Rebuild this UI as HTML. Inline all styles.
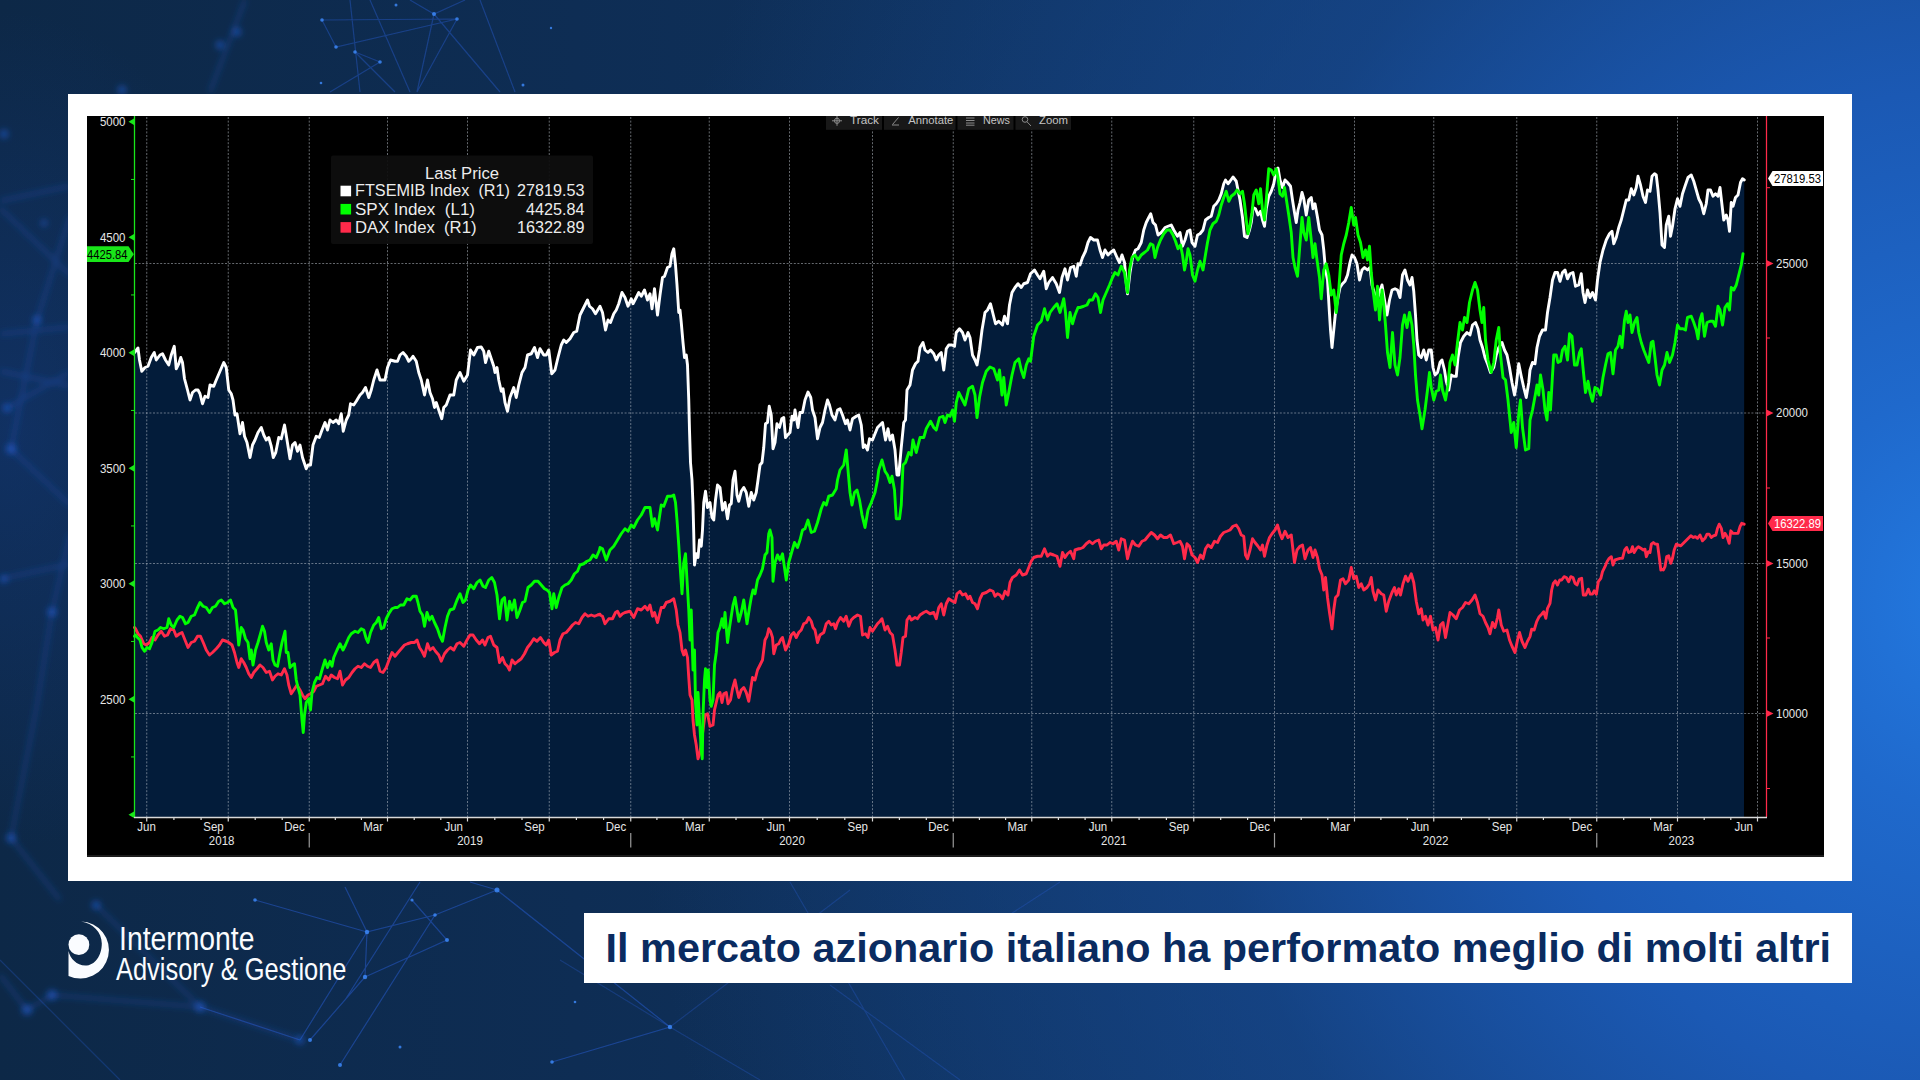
<!DOCTYPE html>
<html lang="it">
<head>
<meta charset="utf-8">
<title>Il mercato azionario italiano ha performato meglio di molti altri</title>
<style>
html,body{margin:0;padding:0;}
body{width:1920px;height:1080px;overflow:hidden;position:relative;font-family:"Liberation Sans",sans-serif;background:#0f2a50;}
#bg{position:absolute;left:0;top:0;width:1920px;height:1080px;
 background:
  radial-gradient(ellipse 260px 420px at 10px 430px, rgba(26,72,170,0.28) 0%, rgba(26,72,170,0) 100%),
  radial-gradient(ellipse 1350px 1500px at 1970px 600px, #2379e0 0%, #1f69cc 14%, #1b59b4 34%, rgba(24,76,152,0.6) 58%, rgba(18,56,108,0) 100%),
  linear-gradient(90deg,#0d2847 0%,#0e2d54 30%,#0f3360 60%,#123b70 100%);}
#net{position:absolute;left:0;top:0;}
#frame{position:absolute;left:68px;top:94px;width:1784px;height:787px;background:#fff;}
#chartbg{position:absolute;left:87px;top:116px;width:1737px;height:739px;background:#000;border-bottom:2.7px solid #1c1c1c;}
#chart{position:absolute;left:0;top:0;}
#chart .grid{stroke:#b8c0c8;stroke-opacity:.55;stroke-width:1;stroke-dasharray:2 1.6;}
#chart .ln{fill:none;stroke-width:2.9;stroke-linejoin:round;stroke-linecap:round;}
#chart text{font-family:"Liberation Sans",sans-serif;}
#chart .ax{font-size:12.3px;fill:#e6e6e6;}
#chart .lg{font-size:17.2px;fill:#ececec;}
#chart .tbt{font-size:11.5px;fill:#c4c4c4;}
#caption{position:absolute;left:583.5px;top:912.5px;width:1268px;height:70.5px;background:#fff;}
#caption svg{position:absolute;left:0;top:0;}
#logo{position:absolute;left:0;top:0;}
</style>
</head>
<body>
<div id="bg"></div>
<svg id="net" width="1920" height="1080" viewBox="0 0 1920 1080">
<defs><filter id="bl" x="-50%" y="-50%" width="200%" height="200%"><feGaussianBlur stdDeviation="3"/></filter><filter id="b1" x="-5%" y="-5%" width="110%" height="110%"><feGaussianBlur stdDeviation="0.6"/></filter></defs>
<g stroke="#2a62e0" stroke-opacity=".38" stroke-width="1.2" fill="none" filter="url(#b1)">
<path d="M322,20 L457,19 M322,20 L336,47 L457,19 M355,52 L380,62 M355,52 L395,92 M380,62 L330,92 M434,14 L417,92 M457,19 L417,92 M434,14 L500,92 M350,0 L360,92 M370,0 L410,92 M410,0 L434,14 L465,0 M480,0 L515,92"/>
<path stroke-opacity=".45" d="M497,890 L435,915 L367,932 L365,977 L310,1040 M497,890 L670,1027 L552,1062 M412,900 L447,940 L365,977 M345,887 L367,932 L300,1040 M435,915 L340,1065 M255,900 L367,932 M200,1007 L300,1040 M420,882 L345,1000 M497,890 L470,882"/>
</g>
<g stroke="#2a62e0" stroke-opacity=".28" stroke-width="1.2" fill="none" filter="url(#b1)">
<path d="M670,1027 L850,890 M670,1027 L760,1080 M830,985 L960,1080 M790,882 L905,1080 M0,960 L120,1080 M560,960 L670,1027 M1060,882 L940,960"/>
</g>
<g fill="#3f8cff" fill-opacity=".8">
<circle cx="322" cy="20" r="1.8"/><circle cx="457" cy="19" r="1.8"/><circle cx="336" cy="47" r="1.8"/><circle cx="355" cy="52" r="1.8"/><circle cx="380" cy="62" r="1.8"/><circle cx="434" cy="14" r="2"/><circle cx="396" cy="5" r="1.5"/><circle cx="551" cy="28" r="1.2"/><circle cx="523" cy="85" r="1.5"/><circle cx="321" cy="83" r="1.3"/>
<circle cx="497" cy="890" r="2.5"/><circle cx="435" cy="915" r="1.8"/><circle cx="367" cy="932" r="2.2"/><circle cx="365" cy="977" r="2.2"/><circle cx="447" cy="940" r="2"/><circle cx="412" cy="900" r="1.6"/><circle cx="670" cy="1027" r="2.2"/><circle cx="552" cy="1062" r="1.8"/><circle cx="310" cy="1040" r="2"/><circle cx="400" cy="1047" r="1.5"/><circle cx="575" cy="1002" r="1.3"/><circle cx="255" cy="900" r="1.8"/><circle cx="340" cy="1065" r="2"/>
</g>
<g filter="url(#bl)" fill="#2a66e8" fill-opacity=".55">
<circle cx="7" cy="408" r="4"/><circle cx="11" cy="449" r="5"/><circle cx="37" cy="320" r="4"/><circle cx="52" cy="612" r="4.5"/><circle cx="4" cy="134" r="4"/><circle cx="4" cy="579" r="3.5"/><circle cx="11" cy="838" r="4.5"/><circle cx="44" cy="223" r="3"/><circle cx="200" cy="1007" r="5"/><circle cx="52" cy="995" r="5"/><circle cx="27" cy="1010" r="5"/><circle cx="237" cy="32" r="4"/><circle cx="220" cy="45" r="4"/><circle cx="122" cy="90" r="4"/><circle cx="300" cy="1040" r="4"/><circle cx="96" cy="905" r="4"/>
</g>
<g filter="url(#bl)" stroke="#2a5fd8" stroke-opacity=".35" stroke-width="3" fill="none">
<path d="M245,0 L210,92 M200,1007 L52,995 L27,1010 M0,975 L27,1010 M200,1007 L300,1040 M96,905 L200,1007 M0,201 L70,186 M0,208 L70,275 M37,320 L70,216 M0,334 L70,327 M0,371 L70,386 M7,408 L70,372 M11,449 L70,505 M11,449 L37,320 M0,579 L70,564 M52,612 L70,534 M52,612 L37,705 M37,705 L11,838 M11,838 L60,900"/>
</g>
</svg>
<div id="frame"></div>
<div id="chartbg"></div>
<svg id="chart" width="1920" height="1080" viewBox="0 0 1920 1080">
<path d="M135,817 L135,352.5 L134.5,352.5 L135.5,351.25 L138,348 L139.5,360 L141.75,371.25 L145,367.5 L148,366.25 L151.25,357.5 L154.25,352.5 L156.25,360 L160,355 L162.5,353.75 L165.5,360 L168.75,365 L171.25,355 L174.25,346.25 L176.25,368.75 L178.75,363.75 L180.75,357.5 L182.5,362.5 L184.5,378.75 L187.5,390 L190,400 L192.5,392.5 L195.5,390 L198,390 L200,393.75 L202.5,403.75 L205,396.25 L208,397.5 L210,385 L213.75,386.25 L216.25,380 L220,371.25 L223.75,362.5 L226.25,367.5 L228.75,390 L231.25,393.75 L233,400 L235,415 L237,413.75 L240,433.75 L242.5,422.5 L244.5,436.25 L247,442.5 L250,457.5 L252.5,445 L255,440 L258,432.5 L261.25,427.5 L263.75,435 L266.25,440 L268.75,437.5 L271.25,446.25 L273.25,457.5 L275.75,452.5 L278.75,437.5 L281.25,438.75 L284.5,425 L287,440 L290,458.75 L292.5,445 L295,442.5 L297.5,451.25 L300,445 L302.5,457.5 L306.25,468.75 L308,465 L310.5,465 L313,445 L316.25,436.25 L319.25,437.5 L322,430 L325,422.5 L327.5,430 L330,420 L333,422.5 L336.25,420 L338.75,423.75 L341.25,413.75 L343.25,431.25 L346.25,420 L348.75,415 L350.5,403.75 L353.75,405 L356.25,401.25 L360,395 L362.5,392.5 L365.5,387.5 L368.75,397.5 L371.25,390 L373.75,380 L377,370 L380,380 L385,380 L387.5,367.5 L390.5,360 L395,361.25 L397.5,361.25 L400,355 L403,352.5 L406.25,356.25 L408.75,361.25 L411.25,358.75 L413,356.25 L416.25,361.25 L418.75,372.5 L421.25,380 L424.5,395 L427.5,380 L430,392.5 L432.5,398.75 L434.5,407.5 L436.25,402.5 L438.75,410 L441.75,418.75 L443.75,407.5 L446.25,405 L450,395 L453.75,395 L456.25,380 L460,372.5 L463.75,381.25 L467.5,375 L470.5,350 L473.75,355 L477.5,347.5 L481.25,347 L483.75,351.25 L485.5,362.5 L488.75,351.25 L491.25,358.75 L493.75,366.25 L495,372.5 L497,367.5 L498.75,380 L501.25,391.25 L503,388.75 L505,402.5 L507.5,411.25 L510,397.5 L513.75,387.5 L516.25,397.5 L518.75,385 L522,372.5 L525,367.5 L527.5,355 L531.25,353.75 L534.5,347.5 L537.5,357.5 L540,348.75 L543.75,355 L546.25,355 L548.75,350 L551.75,373.75 L555,370 L558,357.5 L561.25,345 L563.75,340 L566.25,342.5 L570,338.75 L573.75,332.5 L576.75,331.25 L580,315 L583.75,307.5 L587.5,300 L589.5,306.25 L592.5,308.75 L595.5,313.75 L600,306.25 L600,306.25 L602.5,312.5 L605.5,330 L608,320 L610.5,322.5 L613.75,313.75 L616.25,310 L618.75,303.75 L622,292.5 L625,297.5 L628,306.25 L631.25,298.75 L633,303.75 L636.25,297.5 L638.75,292.5 L641.25,296.25 L644.5,290 L647.5,300 L650,293.75 L652,308.75 L654.5,288.75 L657.5,315 L660,295 L662.5,277.5 L664.5,276.25 L667.5,267.5 L670,266.25 L672,253.75 L673.75,248.75 L675.5,265 L677,285 L678.75,312.5 L680,310 L681.25,322.5 L683,342.5 L684.5,357.5 L686.25,355 L687.5,365 L688.75,400 L689.5,430 L690.5,462.5 L692,480 L693,505 L693.75,533.75 L694.5,565 L696.25,553.75 L698,557.5 L699.5,540 L701.25,546.25 L702.5,530 L703.75,502.5 L705.5,491.25 L707.5,507.5 L710,502.5 L712,517.5 L713.75,520 L715.5,500 L717.5,485 L720,487.5 L722.5,510 L725,502.5 L727.5,518.75 L729.5,505 L731.25,503.75 L733,480 L735,471.25 L737,495 L738.75,501.25 L741.25,491.25 L743.75,487.5 L746.25,492.5 L748.75,506.25 L751.25,492.5 L753.75,500 L756.25,492.5 L758,480 L760,465 L762,462.5 L763.75,447.5 L765.5,423.75 L767.5,422.5 L769.25,406.25 L771.25,415 L773,448.75 L775,442.5 L777,423.75 L779.5,427.5 L781.75,418.75 L783.75,417.5 L785.5,437.5 L787.5,435 L790,432.5 L792,416.25 L793.75,420 L795,410 L798,427.5 L800,412.5 L802.5,412.5 L805,400 L808,392 L810.75,397.5 L812.5,410 L815,417.5 L817.5,438.75 L820,427.5 L822.5,422.5 L825,410 L827.5,400 L829.5,405 L832,415 L835,420 L837.5,410 L840,408.75 L842.5,415 L845.5,423.75 L847.5,420 L850,430 L852.5,418.75 L856.25,416.25 L858.75,415 L861.25,425 L863.25,447.5 L865,445 L867.5,450 L869.5,438.75 L872.5,440 L875,433.75 L877.5,427.5 L880,425 L882.5,422.5 L885.5,440 L888,428.75 L890,440 L892.5,435 L895,450 L897,475 L898.75,475 L901.25,447.5 L903.75,422.5 L905.5,420 L907,390 L910,385 L912.5,370 L915.5,363.75 L918,361.25 L920,347.5 L923,342.5 L925,350 L928,352.5 L930.5,350 L933.75,353.75 L936.25,360 L938.75,355 L941.25,352.5 L943.75,370 L946.25,348.75 L948.75,345 L952,345 L954.5,346.25 L956.25,332.5 L959.5,328.75 L962.5,332.5 L965,340 L968,332.5 L970,337.5 L972.5,355 L975,360 L977,365 L979.5,350 L982,330 L985,312.5 L987.5,310 L990.5,303.75 L993,313.75 L995.5,323.75 L998.75,321.25 L1002.5,325 L1004.5,316.25 L1007.5,323.75 L1009.5,305 L1012,292.5 L1015,287.5 L1018,283.75 L1021.25,287.5 L1023.75,283.75 L1027.5,282.5 L1030.5,273.75 L1034.5,270 L1037.5,275 L1040,278.75 L1043.75,271.25 L1046.25,288.75 L1048.75,282.5 L1052.5,277.5 L1056.25,283.75 L1059.5,292.5 L1062,277.5 L1065,268.75 L1067.5,280 L1070.5,267.5 L1073.75,266.25 L1076.25,276.25 L1078,263.75 L1080,265 L1082.5,257.5 L1085.5,251.25 L1088,242.5 L1090.5,237.5 L1093.75,240 L1097.5,240 L1100,250 L1102.5,257.5 L1105,250 L1108,255 L1110.5,252.5 L1113.75,250 L1117,257.5 L1119.5,262.5 L1122,255 L1124.5,262.5 L1126.25,282.5 L1127.5,293.75 L1130,272.5 L1132.5,257.5 L1135.5,250 L1138,248.75 L1141.25,242.5 L1143.75,230 L1146.25,222.5 L1148.75,217.5 L1150.75,213.75 L1153,222.5 L1155.5,225 L1158,235 L1161.25,232.5 L1165,227.5 L1168,226.25 L1171.25,225 L1173.75,230 L1177.5,236.25 L1180,232.5 L1182.5,246.25 L1185,240 L1187.5,231.25 L1190,230 L1192,242.5 L1195,246.25 L1197.5,235 L1200,233.75 L1203,230 L1205.5,220 L1208.75,217.5 L1211.25,216.25 L1213.75,206.25 L1216.25,203.75 L1218.75,200 L1221.25,193.75 L1223.75,183.75 L1225.5,180 L1228,183.75 L1230,181.25 L1233,177 L1236.25,181.25 L1238,190 L1240,200 L1242.5,217.5 L1244.5,236.25 L1247,237.5 L1249.5,230 L1251.25,222.5 L1253,207.5 L1255.5,208.75 L1258,215 L1260.5,211.25 L1262.5,220 L1264.5,226.25 L1266.25,208.75 L1268.75,196.25 L1271.25,191.25 L1273.75,183.75 L1276.25,170 L1278,168 L1280,180 L1282.5,187.5 L1285,180 L1287.5,182.5 L1290.5,186.25 L1292.5,200 L1294.5,212.5 L1296.25,222.5 L1298,210 L1300,202.5 L1302,192.5 L1303.75,198.75 L1306.25,215 L1308.75,200 L1311.25,197.5 L1313,208.75 L1315,203.75 L1317.5,217.5 L1319.5,230 L1322,235 L1323.75,250 L1325.5,270 L1327.5,280 L1329.25,310 L1330.5,330 L1332,347.5 L1333.75,330 L1335.5,312.5 L1337.5,300 L1340,287.5 L1342.5,283.75 L1345,281.25 L1347.5,275 L1350,262.5 L1352,255 L1354.5,257.5 L1357,263.75 L1359.5,280 L1362,270 L1364.5,267.5 L1367.5,270 L1370,267.5 L1372,285 L1374.5,293.75 L1377,300 L1379.5,292.5 L1382,285 L1384.5,300 L1387,315 L1389.5,300 L1392,290 L1395,288.75 L1397.5,290 L1400,297.5 L1402.5,275 L1405,270 L1407.5,280 L1410,285 L1412,277.5 L1413.75,291.25 L1415.5,315 L1417,340 L1418.75,355 L1421.25,357.5 L1423.75,350 L1426.25,360 L1428.75,350 L1431.25,350 L1433,367.5 L1435,375 L1437.5,372.5 L1440,362.5 L1442,360 L1444.5,370 L1446.25,381.25 L1448.75,390 L1451.25,375 L1453.75,376.25 L1456.25,376.25 L1458,357.5 L1460.5,342.5 L1463.75,336.25 L1467,332.5 L1470,335 L1472.5,325 L1475.5,322.5 L1478,328.75 L1480,340 L1482.5,347.5 L1485,357.5 L1488,365 L1490.5,372.5 L1493.75,367.5 L1496.25,355 L1498.75,347.5 L1502,342.5 L1504.5,350 L1507,355 L1509.5,367.5 L1512,382.5 L1514.5,395 L1516.25,385 L1518.75,363.75 L1521.25,376.25 L1523.75,387.5 L1526.25,397.5 L1528.75,382.5 L1530,370 L1532.5,362.5 L1535,363.75 L1537,347.5 L1539.5,336.25 L1542.5,330 L1545.5,330 L1547.5,312.5 L1550,297.5 L1552.5,280 L1555,272.5 L1557.5,272.5 L1560,281.25 L1562.5,272.5 L1565,270 L1567.5,278.75 L1570,273.75 L1573,272.5 L1575.5,286.25 L1578.75,285 L1581.25,273.75 L1583,292.5 L1585,302.5 L1587.5,290 L1590,297.5 L1592.5,292.5 L1595.5,300 L1597.5,280 L1600,262.5 L1603,250 L1606.25,240 L1609.5,233.75 L1612,231.25 L1613.75,243.75 L1616.25,237.5 L1618.75,227.5 L1621.25,220 L1623.75,210 L1626.25,200 L1628.75,200 L1631.25,188.75 L1633.75,195 L1636.25,187.5 L1638,176.25 L1640.5,185 L1643,196.25 L1645.5,202.5 L1647.5,190 L1650,191.25 L1652,176.25 L1654.5,173.75 L1656.25,175 L1658,190 L1660,212.5 L1662,245 L1664.5,247.5 L1666.25,225 L1668.75,216.25 L1670.5,236.25 L1672.5,226.25 L1675,208.75 L1677.5,198.75 L1680,206.25 L1682.5,193.75 L1685,186.25 L1688,177.5 L1691.25,175 L1693.75,181.25 L1696.25,190 L1698.75,198.75 L1701.25,203.75 L1703.75,213.75 L1706.25,203.75 L1708,190 L1710.5,190 L1713,196.25 L1715.5,193.75 L1718,196.25 L1720,187.5 L1722,205 L1723.75,220 L1726.25,215 L1728,220 L1729.5,231.25 L1731.25,202.5 L1733,206.25 L1735.5,197.5 L1738,195 L1740.5,182.5 L1742.5,178.75 L1744.25,180 L1744,817 Z" fill="#031c3a"/>
<line x1="146.75" y1="117" x2="146.75" y2="817" class="grid"/>
<line x1="228.25" y1="117" x2="228.25" y2="817" class="grid"/>
<line x1="309.25" y1="117" x2="309.25" y2="817" class="grid"/>
<line x1="387.5" y1="117" x2="387.5" y2="817" class="grid"/>
<line x1="467.5" y1="117" x2="467.5" y2="817" class="grid"/>
<line x1="549.25" y1="117" x2="549.25" y2="817" class="grid"/>
<line x1="630.75" y1="117" x2="630.75" y2="817" class="grid"/>
<line x1="709.25" y1="117" x2="709.25" y2="817" class="grid"/>
<line x1="789.5" y1="117" x2="789.5" y2="817" class="grid"/>
<line x1="872.5" y1="117" x2="872.5" y2="817" class="grid"/>
<line x1="953.25" y1="117" x2="953.25" y2="817" class="grid"/>
<line x1="1031.75" y1="117" x2="1031.75" y2="817" class="grid"/>
<line x1="1111.75" y1="117" x2="1111.75" y2="817" class="grid"/>
<line x1="1193.75" y1="117" x2="1193.75" y2="817" class="grid"/>
<line x1="1274.5" y1="117" x2="1274.5" y2="817" class="grid"/>
<line x1="1354.5" y1="117" x2="1354.5" y2="817" class="grid"/>
<line x1="1433.75" y1="117" x2="1433.75" y2="817" class="grid"/>
<line x1="1516.75" y1="117" x2="1516.75" y2="817" class="grid"/>
<line x1="1596.75" y1="117" x2="1596.75" y2="817" class="grid"/>
<line x1="1677.5" y1="117" x2="1677.5" y2="817" class="grid"/>
<line x1="1757.5" y1="117" x2="1757.5" y2="817" class="grid"/>
<line x1="135" y1="263.5" x2="1766" y2="263.5" class="grid"/>
<line x1="135" y1="413" x2="1766" y2="413" class="grid"/>
<line x1="135" y1="563.5" x2="1766" y2="563.5" class="grid"/>
<line x1="135" y1="713.5" x2="1766" y2="713.5" class="grid"/>
<g class="tb">
<rect x="826" y="116" width="56" height="13.8" fill="#181818"/>
<rect x="884" y="116" width="71.5" height="13.8" fill="#181818"/>
<rect x="957.5" y="116" width="56" height="13.8" fill="#181818"/>
<rect x="1015.5" y="116" width="55.5" height="13.8" fill="#181818"/>
<text x="850" y="124.0" class="tbt" textLength="29" lengthAdjust="spacingAndGlyphs">Track</text>
<text x="908.3" y="124.0" class="tbt" textLength="45" lengthAdjust="spacingAndGlyphs">Annotate</text>
<text x="983" y="124.0" class="tbt" textLength="27" lengthAdjust="spacingAndGlyphs">News</text>
<text x="1039" y="124.0" class="tbt" textLength="29" lengthAdjust="spacingAndGlyphs">Zoom</text>
<g stroke="#8a8a8a" stroke-width="1" fill="none">
<circle cx="837" cy="120.8" r="2.6"/><path d="M832,120.8 H842 M837,116 V125.8"/>
<path d="M892.5,124.5 L898.5,117.5 M892,125 H899"/>
<path d="M966,118 H974.5 M966,120.5 H974.5 M966,123 H974.5 M966,125.2 H974.5"/>
<circle cx="1025" cy="119.5" r="2.8"/><path d="M1027,121.8 L1031,126"/>
</g>
</g>
<path d="M134.5,352.5 L135.5,351.25 L138,348 L139.5,360 L141.75,371.25 L145,367.5 L148,366.25 L151.25,357.5 L154.25,352.5 L156.25,360 L160,355 L162.5,353.75 L165.5,360 L168.75,365 L171.25,355 L174.25,346.25 L176.25,368.75 L178.75,363.75 L180.75,357.5 L182.5,362.5 L184.5,378.75 L187.5,390 L190,400 L192.5,392.5 L195.5,390 L198,390 L200,393.75 L202.5,403.75 L205,396.25 L208,397.5 L210,385 L213.75,386.25 L216.25,380 L220,371.25 L223.75,362.5 L226.25,367.5 L228.75,390 L231.25,393.75 L233,400 L235,415 L237,413.75 L240,433.75 L242.5,422.5 L244.5,436.25 L247,442.5 L250,457.5 L252.5,445 L255,440 L258,432.5 L261.25,427.5 L263.75,435 L266.25,440 L268.75,437.5 L271.25,446.25 L273.25,457.5 L275.75,452.5 L278.75,437.5 L281.25,438.75 L284.5,425 L287,440 L290,458.75 L292.5,445 L295,442.5 L297.5,451.25 L300,445 L302.5,457.5 L306.25,468.75 L308,465 L310.5,465 L313,445 L316.25,436.25 L319.25,437.5 L322,430 L325,422.5 L327.5,430 L330,420 L333,422.5 L336.25,420 L338.75,423.75 L341.25,413.75 L343.25,431.25 L346.25,420 L348.75,415 L350.5,403.75 L353.75,405 L356.25,401.25 L360,395 L362.5,392.5 L365.5,387.5 L368.75,397.5 L371.25,390 L373.75,380 L377,370 L380,380 L385,380 L387.5,367.5 L390.5,360 L395,361.25 L397.5,361.25 L400,355 L403,352.5 L406.25,356.25 L408.75,361.25 L411.25,358.75 L413,356.25 L416.25,361.25 L418.75,372.5 L421.25,380 L424.5,395 L427.5,380 L430,392.5 L432.5,398.75 L434.5,407.5 L436.25,402.5 L438.75,410 L441.75,418.75 L443.75,407.5 L446.25,405 L450,395 L453.75,395 L456.25,380 L460,372.5 L463.75,381.25 L467.5,375 L470.5,350 L473.75,355 L477.5,347.5 L481.25,347 L483.75,351.25 L485.5,362.5 L488.75,351.25 L491.25,358.75 L493.75,366.25 L495,372.5 L497,367.5 L498.75,380 L501.25,391.25 L503,388.75 L505,402.5 L507.5,411.25 L510,397.5 L513.75,387.5 L516.25,397.5 L518.75,385 L522,372.5 L525,367.5 L527.5,355 L531.25,353.75 L534.5,347.5 L537.5,357.5 L540,348.75 L543.75,355 L546.25,355 L548.75,350 L551.75,373.75 L555,370 L558,357.5 L561.25,345 L563.75,340 L566.25,342.5 L570,338.75 L573.75,332.5 L576.75,331.25 L580,315 L583.75,307.5 L587.5,300 L589.5,306.25 L592.5,308.75 L595.5,313.75 L600,306.25 L600,306.25 L602.5,312.5 L605.5,330 L608,320 L610.5,322.5 L613.75,313.75 L616.25,310 L618.75,303.75 L622,292.5 L625,297.5 L628,306.25 L631.25,298.75 L633,303.75 L636.25,297.5 L638.75,292.5 L641.25,296.25 L644.5,290 L647.5,300 L650,293.75 L652,308.75 L654.5,288.75 L657.5,315 L660,295 L662.5,277.5 L664.5,276.25 L667.5,267.5 L670,266.25 L672,253.75 L673.75,248.75 L675.5,265 L677,285 L678.75,312.5 L680,310 L681.25,322.5 L683,342.5 L684.5,357.5 L686.25,355 L687.5,365 L688.75,400 L689.5,430 L690.5,462.5 L692,480 L693,505 L693.75,533.75 L694.5,565 L696.25,553.75 L698,557.5 L699.5,540 L701.25,546.25 L702.5,530 L703.75,502.5 L705.5,491.25 L707.5,507.5 L710,502.5 L712,517.5 L713.75,520 L715.5,500 L717.5,485 L720,487.5 L722.5,510 L725,502.5 L727.5,518.75 L729.5,505 L731.25,503.75 L733,480 L735,471.25 L737,495 L738.75,501.25 L741.25,491.25 L743.75,487.5 L746.25,492.5 L748.75,506.25 L751.25,492.5 L753.75,500 L756.25,492.5 L758,480 L760,465 L762,462.5 L763.75,447.5 L765.5,423.75 L767.5,422.5 L769.25,406.25 L771.25,415 L773,448.75 L775,442.5 L777,423.75 L779.5,427.5 L781.75,418.75 L783.75,417.5 L785.5,437.5 L787.5,435 L790,432.5 L792,416.25 L793.75,420 L795,410 L798,427.5 L800,412.5 L802.5,412.5 L805,400 L808,392 L810.75,397.5 L812.5,410 L815,417.5 L817.5,438.75 L820,427.5 L822.5,422.5 L825,410 L827.5,400 L829.5,405 L832,415 L835,420 L837.5,410 L840,408.75 L842.5,415 L845.5,423.75 L847.5,420 L850,430 L852.5,418.75 L856.25,416.25 L858.75,415 L861.25,425 L863.25,447.5 L865,445 L867.5,450 L869.5,438.75 L872.5,440 L875,433.75 L877.5,427.5 L880,425 L882.5,422.5 L885.5,440 L888,428.75 L890,440 L892.5,435 L895,450 L897,475 L898.75,475 L901.25,447.5 L903.75,422.5 L905.5,420 L907,390 L910,385 L912.5,370 L915.5,363.75 L918,361.25 L920,347.5 L923,342.5 L925,350 L928,352.5 L930.5,350 L933.75,353.75 L936.25,360 L938.75,355 L941.25,352.5 L943.75,370 L946.25,348.75 L948.75,345 L952,345 L954.5,346.25 L956.25,332.5 L959.5,328.75 L962.5,332.5 L965,340 L968,332.5 L970,337.5 L972.5,355 L975,360 L977,365 L979.5,350 L982,330 L985,312.5 L987.5,310 L990.5,303.75 L993,313.75 L995.5,323.75 L998.75,321.25 L1002.5,325 L1004.5,316.25 L1007.5,323.75 L1009.5,305 L1012,292.5 L1015,287.5 L1018,283.75 L1021.25,287.5 L1023.75,283.75 L1027.5,282.5 L1030.5,273.75 L1034.5,270 L1037.5,275 L1040,278.75 L1043.75,271.25 L1046.25,288.75 L1048.75,282.5 L1052.5,277.5 L1056.25,283.75 L1059.5,292.5 L1062,277.5 L1065,268.75 L1067.5,280 L1070.5,267.5 L1073.75,266.25 L1076.25,276.25 L1078,263.75 L1080,265 L1082.5,257.5 L1085.5,251.25 L1088,242.5 L1090.5,237.5 L1093.75,240 L1097.5,240 L1100,250 L1102.5,257.5 L1105,250 L1108,255 L1110.5,252.5 L1113.75,250 L1117,257.5 L1119.5,262.5 L1122,255 L1124.5,262.5 L1126.25,282.5 L1127.5,293.75 L1130,272.5 L1132.5,257.5 L1135.5,250 L1138,248.75 L1141.25,242.5 L1143.75,230 L1146.25,222.5 L1148.75,217.5 L1150.75,213.75 L1153,222.5 L1155.5,225 L1158,235 L1161.25,232.5 L1165,227.5 L1168,226.25 L1171.25,225 L1173.75,230 L1177.5,236.25 L1180,232.5 L1182.5,246.25 L1185,240 L1187.5,231.25 L1190,230 L1192,242.5 L1195,246.25 L1197.5,235 L1200,233.75 L1203,230 L1205.5,220 L1208.75,217.5 L1211.25,216.25 L1213.75,206.25 L1216.25,203.75 L1218.75,200 L1221.25,193.75 L1223.75,183.75 L1225.5,180 L1228,183.75 L1230,181.25 L1233,177 L1236.25,181.25 L1238,190 L1240,200 L1242.5,217.5 L1244.5,236.25 L1247,237.5 L1249.5,230 L1251.25,222.5 L1253,207.5 L1255.5,208.75 L1258,215 L1260.5,211.25 L1262.5,220 L1264.5,226.25 L1266.25,208.75 L1268.75,196.25 L1271.25,191.25 L1273.75,183.75 L1276.25,170 L1278,168 L1280,180 L1282.5,187.5 L1285,180 L1287.5,182.5 L1290.5,186.25 L1292.5,200 L1294.5,212.5 L1296.25,222.5 L1298,210 L1300,202.5 L1302,192.5 L1303.75,198.75 L1306.25,215 L1308.75,200 L1311.25,197.5 L1313,208.75 L1315,203.75 L1317.5,217.5 L1319.5,230 L1322,235 L1323.75,250 L1325.5,270 L1327.5,280 L1329.25,310 L1330.5,330 L1332,347.5 L1333.75,330 L1335.5,312.5 L1337.5,300 L1340,287.5 L1342.5,283.75 L1345,281.25 L1347.5,275 L1350,262.5 L1352,255 L1354.5,257.5 L1357,263.75 L1359.5,280 L1362,270 L1364.5,267.5 L1367.5,270 L1370,267.5 L1372,285 L1374.5,293.75 L1377,300 L1379.5,292.5 L1382,285 L1384.5,300 L1387,315 L1389.5,300 L1392,290 L1395,288.75 L1397.5,290 L1400,297.5 L1402.5,275 L1405,270 L1407.5,280 L1410,285 L1412,277.5 L1413.75,291.25 L1415.5,315 L1417,340 L1418.75,355 L1421.25,357.5 L1423.75,350 L1426.25,360 L1428.75,350 L1431.25,350 L1433,367.5 L1435,375 L1437.5,372.5 L1440,362.5 L1442,360 L1444.5,370 L1446.25,381.25 L1448.75,390 L1451.25,375 L1453.75,376.25 L1456.25,376.25 L1458,357.5 L1460.5,342.5 L1463.75,336.25 L1467,332.5 L1470,335 L1472.5,325 L1475.5,322.5 L1478,328.75 L1480,340 L1482.5,347.5 L1485,357.5 L1488,365 L1490.5,372.5 L1493.75,367.5 L1496.25,355 L1498.75,347.5 L1502,342.5 L1504.5,350 L1507,355 L1509.5,367.5 L1512,382.5 L1514.5,395 L1516.25,385 L1518.75,363.75 L1521.25,376.25 L1523.75,387.5 L1526.25,397.5 L1528.75,382.5 L1530,370 L1532.5,362.5 L1535,363.75 L1537,347.5 L1539.5,336.25 L1542.5,330 L1545.5,330 L1547.5,312.5 L1550,297.5 L1552.5,280 L1555,272.5 L1557.5,272.5 L1560,281.25 L1562.5,272.5 L1565,270 L1567.5,278.75 L1570,273.75 L1573,272.5 L1575.5,286.25 L1578.75,285 L1581.25,273.75 L1583,292.5 L1585,302.5 L1587.5,290 L1590,297.5 L1592.5,292.5 L1595.5,300 L1597.5,280 L1600,262.5 L1603,250 L1606.25,240 L1609.5,233.75 L1612,231.25 L1613.75,243.75 L1616.25,237.5 L1618.75,227.5 L1621.25,220 L1623.75,210 L1626.25,200 L1628.75,200 L1631.25,188.75 L1633.75,195 L1636.25,187.5 L1638,176.25 L1640.5,185 L1643,196.25 L1645.5,202.5 L1647.5,190 L1650,191.25 L1652,176.25 L1654.5,173.75 L1656.25,175 L1658,190 L1660,212.5 L1662,245 L1664.5,247.5 L1666.25,225 L1668.75,216.25 L1670.5,236.25 L1672.5,226.25 L1675,208.75 L1677.5,198.75 L1680,206.25 L1682.5,193.75 L1685,186.25 L1688,177.5 L1691.25,175 L1693.75,181.25 L1696.25,190 L1698.75,198.75 L1701.25,203.75 L1703.75,213.75 L1706.25,203.75 L1708,190 L1710.5,190 L1713,196.25 L1715.5,193.75 L1718,196.25 L1720,187.5 L1722,205 L1723.75,220 L1726.25,215 L1728,220 L1729.5,231.25 L1731.25,202.5 L1733,206.25 L1735.5,197.5 L1738,195 L1740.5,182.5 L1742.5,178.75 L1744.25,180" class="ln" stroke="#ffffff"/>
<path d="M134.5,627.5 L135.5,628.75 L138,633.75 L140.5,636.25 L143.75,643.75 L146.25,645 L149.5,642.5 L152,637.5 L155,640 L158,635 L161.25,631.25 L164.5,636.25 L167.5,635 L170.5,628.75 L173.75,630 L176.25,636.25 L179.5,633.75 L182,632.5 L185,640 L188,647.5 L191.25,642.5 L194.5,641.25 L197.5,636.25 L200.5,636.25 L203.75,643.75 L206.25,650 L209.5,655 L212.5,652.5 L216.25,648.75 L219.5,645 L222.5,640 L226.25,641.25 L228.75,642.5 L232,645 L234.5,652.5 L237,662.5 L238.75,667.5 L241.25,658.75 L243.75,662.5 L246.25,667.5 L248.75,673.75 L251.25,677.5 L253.75,672.5 L257,668.75 L260,665 L263,667.5 L266.25,672.5 L269.5,671.25 L272.5,680 L275,676.25 L278,673.75 L281.25,675 L284.5,668.75 L287,675 L288.75,685 L291.25,693.75 L293.75,690 L297,685 L300,690 L302.5,695 L305,698.75 L308,695 L310.5,693.75 L313.75,691.25 L316.25,686.25 L319.5,685 L322.5,683.75 L325.5,676.25 L328.75,680 L331.25,675 L334.5,677.5 L337.5,678.75 L340,671.25 L342.5,685 L345.5,680 L348.75,677.5 L352,672.5 L355,668.75 L358,666.25 L361.25,667.5 L364.5,663.75 L367.5,666.25 L370.5,667.5 L373.75,662.5 L377,660 L380,671.25 L383,672.5 L386.25,667.5 L389.5,658.75 L392,652.5 L395,656.25 L398,652.5 L401.25,648.75 L404.5,645 L407.5,643.75 L411.25,642.5 L414.5,642.5 L417,640 L419.5,647.5 L422,651.25 L424.5,656.25 L427.5,643.75 L430,650 L433,647.5 L435.5,651.25 L438.75,655 L441.25,661.25 L444.5,653.75 L447.5,650 L450.5,647.5 L453.75,650 L457,643.75 L460,642.5 L463.75,646.25 L467,640 L470,635 L473,635 L476.25,640 L479.5,643.75 L482.5,640 L485,645 L488,637.5 L490.5,636.25 L493.75,645 L497,647.5 L499.5,662.5 L502.5,657.5 L505,663.75 L507.5,666.25 L509.5,670 L512,660 L515,663.75 L518,661.25 L521.25,658.75 L524.5,653.75 L527.5,647.5 L530.5,643.75 L533.75,638.75 L537,641.25 L540.5,637.5 L543.75,642.5 L546.25,645 L548.75,640 L551.25,655 L554.5,652.5 L557.5,651.25 L560,640 L563,633.75 L566.25,632.5 L569.5,628.75 L572.5,625 L575.5,622.5 L578.75,623.75 L582,617.5 L585,613.75 L588,616.25 L591.25,615 L594.5,616.25 L597.5,615 L600,614.25 L600,615 L602.5,616.25 L605,623.75 L608.75,618.75 L612.5,618.75 L615.5,612.5 L617.5,611.25 L620,616.25 L622.5,613.75 L625,612.5 L630,611.25 L633.75,617.5 L637.5,608.75 L641.25,610 L645,606.25 L647.5,610 L650,605 L652.5,616.25 L654.5,612.5 L657.5,622.5 L661.25,607.5 L663.75,607.5 L666.25,602.5 L670,601.25 L673.75,598.75 L676.25,610 L678,625 L680,632.5 L682,650 L683.75,655 L685.5,650 L687.5,657.5 L688.75,677.5 L690,695 L692,700 L693,720 L694.5,735 L696.25,745 L698,758.75 L700,752.5 L701.25,742.5 L703,730 L705,715 L707.5,713.75 L710,726.25 L713,725 L714.5,710 L716.25,702.5 L718,695 L720,692.5 L722,702.5 L723.75,693.75 L726.25,692.5 L728,703.75 L730.5,700 L732.5,688.75 L735,680 L737,690 L738.75,697.5 L741.25,690 L743.75,687.5 L746.25,692.5 L748.75,701.25 L750.5,690 L752.5,677.5 L755,680 L757.5,670 L760,665 L762.5,660 L765,640 L767,636.25 L768.75,628.75 L770.5,631.25 L772.5,637.5 L773.75,653.75 L776.25,645 L778.75,643.75 L780.5,640 L782.5,637.5 L785.5,650 L788.75,643.75 L791.25,635 L793.75,632.5 L796.25,637.5 L798.75,632.5 L801.25,630 L803.75,623.75 L806.25,622.5 L808.75,617.5 L811.25,621.25 L813,627.5 L815,630 L817.5,642.5 L820,635 L823.75,632.5 L826.25,623.75 L828.75,621.25 L831.25,625 L833.75,623.75 L835.5,628.75 L837.5,622.5 L840.5,617.5 L843.75,621.25 L846.25,616.25 L848.75,626.25 L851.25,620 L853.75,617.5 L857.5,615 L860.5,616.25 L862.5,635 L865.5,633.75 L868,637.5 L870,627.5 L872.5,631.25 L875,627.5 L877.5,623.75 L880,621.25 L882,618.75 L885,630 L887.5,626.25 L890,632.5 L892.5,635 L895,650 L897,665 L899.5,665 L901.25,652.5 L903,637.5 L905.5,636.25 L907,620 L909.5,616.25 L911.25,620 L915,617.5 L917.5,618.75 L920,615 L923.75,612.5 L926.25,611.25 L930,613.75 L933.75,612.5 L936.25,618.75 L938.75,607.5 L941.25,603.75 L943.75,615 L946.25,603.75 L948.75,598.75 L952.5,601.25 L955,602.5 L957,593.75 L960,591.25 L962.5,595 L965.5,593.75 L968,598.75 L970,596.25 L972.5,602.5 L975,603.75 L977.5,608.75 L980,598.75 L982.5,593.75 L986.25,592.5 L990,590 L993,591.25 L995,596.25 L997.5,593.75 L1000,595 L1002.5,598.75 L1005,591.25 L1008,595 L1010,582.5 L1012.5,577.5 L1016.25,575 L1019.5,570 L1022.5,575 L1026.25,573.75 L1028.75,567.5 L1031.25,561.25 L1033.75,557.5 L1037.5,556.25 L1041.25,556.25 L1044.5,548.75 L1047.5,556.25 L1050,553.75 L1053.75,555 L1057,556.25 L1060,566.25 L1062.5,552.5 L1065,557.5 L1067.5,553.75 L1070.5,551.25 L1073.75,558.75 L1075,550 L1078.75,548.75 L1080,548.75 L1083,547.5 L1086.25,543.75 L1089.5,541.25 L1092.5,543.75 L1095.5,541.25 L1098.75,540 L1101.25,548.75 L1103.75,545 L1107,545 L1110,542.5 L1113,543.75 L1116.25,541.25 L1118.75,550 L1121.25,538.75 L1124.5,540 L1127.5,558.75 L1130,548.75 L1132.5,541.25 L1135.5,545 L1138.75,546.25 L1142,541.25 L1145,540 L1148,536.25 L1151.25,532.5 L1154.5,535 L1157.5,538.75 L1160.5,535 L1163.75,537.5 L1167,537.5 L1170.5,535 L1173.75,543.75 L1177,542.5 L1180,541.25 L1182.5,546.25 L1184.5,558.75 L1187,543.75 L1189.5,546.25 L1192,555 L1195,557.5 L1197.5,562.5 L1200.5,555 L1203,558.75 L1205.5,548.75 L1208,545 L1211.25,547.5 L1214.5,541.25 L1217.5,542.5 L1220.5,536.25 L1223.75,532.5 L1227,531.25 L1230,530 L1233,526.25 L1236.25,525 L1238.75,528.75 L1241.25,535 L1243.75,536.25 L1245.5,555 L1247.5,558.75 L1250,550 L1252.5,538.75 L1255,542.5 L1258,546.25 L1260.5,550 L1262.5,545 L1264.5,556.25 L1267,545 L1269.5,537.5 L1272,533.75 L1275,530 L1277.5,525 L1280,533.75 L1282,538.75 L1285,531.25 L1288,537.5 L1291.25,535 L1293,550 L1294.5,562.5 L1297,550 L1300,546.25 L1302.5,545 L1305,558.75 L1308,550 L1310.5,547.5 L1313,557.5 L1315,550 L1317.5,557.5 L1319.5,568.75 L1322,575 L1323.75,590 L1325.5,577.5 L1327.5,597.5 L1329.5,612.5 L1332,628.75 L1333.75,610 L1335.5,597.5 L1338,595 L1340.5,580 L1343,578.75 L1345.5,583.75 L1348.75,580 L1351.25,567.5 L1353.75,578.75 L1356.25,576.25 L1358.75,587.5 L1361.25,583.75 L1363.75,590 L1367,587.5 L1369.5,583.75 L1371.25,577.5 L1373,591.25 L1375.5,600 L1378,590 L1381.25,593.75 L1383.75,595 L1386.25,611.25 L1388.75,601.25 L1392,592.5 L1394.5,587.5 L1396.25,595 L1398.75,588.75 L1400.5,595 L1403,583.75 L1405.5,576.25 L1408,581.25 L1411.25,573.75 L1413.75,582.5 L1416.25,601.25 L1418.75,613.75 L1421.25,608.75 L1423,620 L1425.5,616.25 L1428,625 L1430.5,616.25 L1433,630 L1435.5,627.5 L1438,640 L1440.5,625 L1443,622.5 L1445.5,637.5 L1447.5,626.25 L1450,612.5 L1453,615 L1456.25,618.75 L1459.5,610 L1462.5,607.5 L1465.5,602.5 L1468.75,603.75 L1472,600 L1475,595 L1477.5,602.5 L1480,613.75 L1483,616.25 L1485.5,622.5 L1488,627.5 L1490,633.75 L1492.5,622.5 L1495,627.5 L1497.5,617.5 L1498.75,610 L1501.25,625 L1503.75,631.25 L1507,630 L1509.5,640 L1512,646.25 L1515,652.5 L1517.5,640 L1519.5,632.5 L1522,641.25 L1525,647.5 L1527.5,641.25 L1530,636.67 L1531.67,629.17 L1534.17,630 L1536.67,621.67 L1539.17,616.67 L1541.67,614.17 L1543.67,611.67 L1545.83,618.33 L1547.5,608.33 L1550,603.33 L1551.67,590 L1553.33,583.33 L1555.33,580.83 L1557.5,585 L1559.67,580 L1561.67,580 L1564.17,576.67 L1566.33,577.5 L1568.67,581.67 L1570.83,576.67 L1573,577.5 L1575,583.33 L1577,585 L1579.17,579.17 L1581.67,578.33 L1583.33,595 L1585.83,595 L1588.33,589.17 L1590.33,594.17 L1592.5,594.17 L1594.17,590.83 L1596.33,594.17 L1598.33,581.67 L1600.83,578.33 L1602.5,571.67 L1605,566.67 L1607,561.67 L1609.17,558.33 L1611.33,556.67 L1613,565 L1615,560 L1617.5,559.17 L1620,558.33 L1622.5,558.33 L1624.67,550 L1626.67,547.5 L1628.67,552.5 L1630.83,551.67 L1632.5,546.67 L1634.17,552.5 L1636.67,548.33 L1638.33,546.67 L1640.83,548.33 L1643.33,550 L1645,549.17 L1646.33,556.67 L1648.33,551.67 L1650,552.5 L1651.33,544.17 L1653.33,542.5 L1655.33,544.17 L1657.5,544.17 L1659.17,556.67 L1660.83,570 L1662,569.17 L1663.33,570 L1665,566.67 L1666.67,556.67 L1668.67,555.83 L1670.83,563.33 L1672.5,558.33 L1674.17,550 L1676.33,544.17 L1678.33,545 L1680.83,545.83 L1683.33,543.33 L1685.83,540.83 L1688.33,538.33 L1690.83,535.83 L1693.33,537.5 L1695.33,536.67 L1697.5,538.33 L1700,535 L1702.5,540.83 L1705,538.33 L1707,534.17 L1709.17,534.17 L1711.33,537.5 L1713.33,535.83 L1715.83,535 L1717.5,528.33 L1719.17,524.17 L1721.33,528.33 L1723,537.5 L1725,533.33 L1727,536.67 L1729.17,543.33 L1730.83,530.83 L1733,533.33 L1735.33,533.33 L1738,533.33 L1740,526.67 L1741.67,523.33 L1744.17,524.17" class="ln" stroke="#ff2a4a"/>
<path d="M134.5,636.25 L135.5,635 L137.5,637.5 L140,640 L142,647.5 L144.5,651.25 L147,647.5 L149.5,648.75 L152,642.5 L155,631.25 L158,630 L160.5,627.5 L163.75,628.75 L167,627.5 L168.75,618.75 L171.25,625 L173.75,627.5 L177,620 L180,616.25 L182.5,617.5 L185.5,623.75 L188,622.5 L191.25,616.25 L194.5,615 L197,608.75 L200,602.5 L203,606.25 L206.25,607.5 L209.5,612.5 L212.5,607.5 L215.5,606.25 L218.75,601.25 L221.25,600 L224.5,603.75 L227.5,602.5 L230.5,600 L233,607.5 L235.5,610 L237,625 L238.75,645 L241.25,627.5 L243,630 L245.5,638.75 L248,642.5 L250,658.75 L251.25,650 L253,665 L255.5,650 L258,642.5 L260.5,633.75 L262.5,626.25 L264.5,631.25 L266.25,642.5 L268.75,650 L271.25,643.75 L273,660 L275,665 L277.5,666.25 L280,652.5 L282,642.5 L285,631.25 L286.25,652.5 L288,652.5 L290,667.5 L292.5,665 L294.5,663.75 L296.25,680 L298,687.5 L300,695 L302,720 L303.25,732.5 L304.5,715 L306.25,702.5 L308.75,698.75 L310.5,710 L312,692.5 L314.5,682.5 L317,677.5 L319.5,678.75 L322,670 L325,660 L327.5,667.5 L330,661.25 L332,666.25 L333.75,657.5 L337,650 L340,643.75 L343,650 L345.5,645 L348.75,637.5 L351.25,633.75 L355,631.25 L358,632.5 L361.25,628.75 L363.75,630 L366.25,638.75 L368,642.5 L370.5,632.5 L373.75,625 L376.25,622.5 L378.75,617.5 L381.25,628.75 L383.75,627.5 L386.25,618.75 L388.75,613.75 L392,608.75 L395,607.5 L397.5,607.5 L400.5,605 L403.75,605 L407,598.75 L410,600 L413,596.25 L416.25,596.25 L418,602.5 L420,611.25 L422.5,615 L424.5,626.25 L427,612.5 L429.5,620 L432,616.25 L434.5,622.5 L437.5,628.75 L440,636.25 L442.5,641.25 L445,627.5 L447.5,616.25 L450,610 L453.75,608.75 L457,600 L460,593.75 L463,602.5 L465.5,600 L468,590 L470.5,585 L473.75,588.75 L477,582.5 L480,580 L483,586.25 L485.5,587.5 L488.75,580 L491.75,577.5 L494.5,582.5 L497,595 L499.5,618.75 L502,600 L504.5,597.5 L507,620 L509.5,601.25 L512,610 L514.5,600 L517,617.5 L519.5,611.25 L522.5,602.5 L525,601.25 L528,587.5 L531.25,585 L534.5,581.25 L538,581.25 L541.25,585 L544.5,588.75 L547,590 L549.5,592.5 L552,608.75 L553.75,593.75 L556.25,607.5 L558.75,597.5 L562,587.5 L565,585 L568,583.75 L571.25,580 L574.5,573.75 L577.5,571.25 L580,565 L583.75,563.75 L587,561.25 L590,560 L593,555 L596.25,557.5 L599.5,550 L600,547.5 L602.5,548.75 L606.25,560 L610,550 L613.75,546.25 L617.5,540 L621.25,533.75 L625,528.75 L628,531.25 L631.25,525 L633.75,527.5 L637.5,520 L641.25,515 L645,507.5 L650,507.5 L652.5,526.25 L654.5,518.75 L657.5,530 L661.25,505 L663.75,506.25 L667.5,496.25 L671.25,496.25 L673.75,495 L675.5,502.5 L677,520 L678.75,545 L680,565 L682,593.75 L683.75,562.5 L685.5,553.75 L687,580 L688.75,610 L690,640 L691.25,610 L693,670 L694.5,650 L695.5,702.5 L697,725 L698,692.5 L699.5,720 L701.25,750 L702.25,758.75 L703,715 L704.5,680 L705.5,668.75 L707,687.5 L708.25,670 L710,700 L711.25,706.25 L713,700 L714.5,665 L716.25,652.5 L718,632.5 L720,627.5 L722,618.75 L723.75,627.5 L725,612.5 L727.5,642.5 L729.5,627.5 L731.25,616.25 L733,605 L735,597.5 L737,610 L738.75,621.25 L741.25,612.5 L743.75,600 L747,623.75 L749.5,607.5 L751.25,597.5 L753,590 L755,593.75 L757.5,580 L760,575 L762.5,568.75 L765,555 L767,552.5 L768.75,533.75 L770,530 L772,537.5 L773,581.25 L775,562.5 L777.5,555 L780,560 L782.5,553.75 L786.25,580 L788.75,562.5 L791.25,553.75 L794.5,542.5 L797.5,547.5 L800,540 L802.5,530 L805,528.75 L808,520 L811.25,532.5 L814.5,531.25 L817.5,522.5 L821.25,508.75 L823.75,502.5 L826.25,505 L828.75,496.25 L832.5,495 L836.25,488.75 L837.5,480 L840,470 L843.75,465 L846.25,450 L848,470 L850,492.5 L852,505 L854.5,492.5 L857,490 L859.5,500 L862,515 L865,527.5 L868,510 L871.25,502.5 L875,492.5 L877.5,480 L878.75,470 L882,460 L885,471.25 L887.5,475 L890,482.5 L892,476.25 L894.5,490 L896.25,518.75 L899.5,518.75 L901.25,505 L903,465 L905.5,462.5 L908.75,452.5 L911.25,455 L913,440 L916.25,452.5 L920,437.5 L923.75,437.5 L926.25,428.75 L930.5,421.25 L933.75,427.5 L936.25,430 L939.5,417.5 L943,416.25 L945,422.5 L947.5,415 L950,416.25 L952.5,410 L954.5,421.25 L956.25,402.5 L958.75,392.5 L962.5,400 L965,405 L968.75,388.75 L972.5,386.25 L975,395 L977,417.5 L979.5,397.5 L982.5,382.5 L986.25,371.25 L990,367 L993.75,368.75 L997.5,380 L999.5,370 L1002,395 L1003.75,377.5 L1006.25,405 L1008.75,392.5 L1012,375 L1015,362.5 L1018.75,358.75 L1021.25,370 L1023.75,377.5 L1026.25,365 L1028.75,358.75 L1030.5,361.25 L1033.75,336.25 L1037.5,325 L1041.25,321.25 L1044.5,308.75 L1047.5,320 L1050,312.5 L1053.75,307.5 L1057,303.75 L1060,312.5 L1063.75,298.75 L1065.5,312.5 L1067.5,337.5 L1070,312.5 L1072.5,323.75 L1075,315 L1078,307.5 L1080,307.5 L1083.75,306.25 L1087,305 L1089.5,300 L1092.5,300 L1095.5,293.75 L1098,297.5 L1100.5,312.5 L1103,300 L1106.25,292.5 L1109.5,285 L1112.5,277.5 L1115,272.5 L1118,275 L1121.25,266.25 L1124.5,272.5 L1126.25,285 L1127.5,292.5 L1129.5,270 L1132,257.5 L1135,255 L1138,260 L1141.25,255 L1144.5,252.5 L1147.5,250 L1150.5,243.75 L1153,245 L1155,257.5 L1157.5,247.5 L1160.5,240 L1163.75,233.75 L1167,230 L1170,230 L1173,235 L1175.5,241.25 L1178,248.75 L1180.5,245 L1182.5,255 L1184.5,270 L1186.25,261.25 L1188,248.75 L1190,255 L1192.5,275 L1195,281.25 L1197.5,270 L1200,261.25 L1203,270 L1205,257.5 L1207.5,242.5 L1210,230 L1213,223.75 L1216.25,221.25 L1218.75,215 L1221.25,205 L1223.75,197.5 L1226.25,191.25 L1228.75,201.25 L1231.25,196.25 L1234.5,193.75 L1237,190 L1240,193.75 L1242.5,191.25 L1244.5,203.75 L1246.25,220 L1248,233.75 L1250,225 L1252,212.5 L1253.75,195 L1256.25,190 L1258.75,203.75 L1260.5,188.75 L1262.5,210 L1264.5,220 L1266.25,200 L1268.75,168.75 L1271.25,170 L1273.75,175 L1276.25,168.75 L1278,177.5 L1280,193.75 L1282.5,196.25 L1284.5,187.5 L1286.25,198.75 L1288.75,215 L1291.25,232.5 L1293,257.5 L1295,267.5 L1297.5,276.25 L1299.5,250 L1302,217.5 L1303.75,232.5 L1306.25,240 L1308.75,217.5 L1311.25,240 L1313,257.5 L1315,243.75 L1317,260 L1319.5,277.5 L1321.25,298.75 L1323.75,270 L1326.25,263.75 L1328.75,275 L1331.25,295 L1333.75,290 L1336.25,312.5 L1338.75,290 L1341.25,255 L1343.75,243.75 L1346.25,235 L1348.75,222.5 L1351.25,207.5 L1353.75,225 L1355.5,217.5 L1358,235 L1360.5,242.5 L1363,257.5 L1365.5,250 L1367.5,260 L1369.5,246.25 L1371.25,272.5 L1373,290 L1375.5,310 L1377.5,286.25 L1379.5,320 L1382,290 L1383.75,305 L1385.5,325 L1387.5,352.5 L1390,367.5 L1392.5,332.5 L1395,365 L1397.5,375 L1400,357.5 L1402.5,325 L1404.5,315 L1407,327.5 L1409.5,312.5 L1412,325 L1413.75,345 L1415.5,375 L1417.5,400 L1420,415 L1422,428.75 L1425,410 L1427.5,390 L1429.5,372.5 L1431.25,387.5 L1433.75,400 L1436.25,391.25 L1438.75,390 L1440.5,375 L1442.5,390 L1445.5,400 L1448,385 L1450,362.5 L1452.5,355 L1455,365 L1457.5,342.5 L1460,322.5 L1462.5,330 L1464.5,317.5 L1467,322.5 L1469.5,302.5 L1472.5,290 L1475,282.5 L1477.5,290 L1480,310 L1482,322.5 L1483.75,307.5 L1485.5,340 L1488,360 L1491.25,372.5 L1493.75,362.5 L1496.25,340 L1498.75,327.5 L1500.5,355 L1503,377.5 L1505.5,380 L1508,400 L1509.5,415 L1511.25,432.5 L1513.75,422.5 L1516.25,447.5 L1518.75,413.75 L1520.5,400 L1522.5,427.5 L1525.5,450 L1528.75,448.75 L1530,420 L1532.5,410 L1535.5,393.75 L1537,385 L1538.75,395 L1540.5,375 L1543,390 L1545,410 L1547,420 L1548.75,392.5 L1550.5,410 L1552.5,375 L1553.75,355 L1556.25,355 L1558,362.5 L1560.5,361.25 L1562.5,350 L1565,346.25 L1567.5,360 L1569.5,333.75 L1572,336.25 L1574.5,365 L1577,365 L1579.5,352.5 L1581.25,348.75 L1583,367.5 L1585.5,392.5 L1588,381.25 L1590,392.5 L1592.5,401.25 L1595,387.5 L1597.5,388.75 L1600.5,395 L1603,377.5 L1605.5,365 L1608,353.75 L1610.5,352.5 L1613,373.75 L1615.5,350 L1618,346.25 L1620,336.25 L1622,347.5 L1624.5,320 L1626.25,311.25 L1628,322.5 L1630,315 L1632,332.5 L1634.5,322.5 L1637,317.5 L1638.75,332.5 L1641.25,342.5 L1643.75,350 L1646.25,356.25 L1648.75,362.5 L1651.25,342.5 L1653,341.25 L1655,357.5 L1657,375 L1659.5,385 L1662,370 L1664.5,365 L1667,352.5 L1669.5,362.5 L1672.5,355 L1675,342.5 L1677.5,325 L1680,328.75 L1683,328.75 L1685.5,330 L1687.5,317.5 L1691.25,316.25 L1693.75,322.5 L1696.25,330 L1698,338.75 L1700,320 L1702,313.75 L1704.5,336.25 L1707,322.5 L1710,321.25 L1713,321.25 L1715.5,326.25 L1718,306.25 L1720,310 L1722.5,325 L1725,307.5 L1727.5,303.75 L1729.5,310 L1731.25,287.5 L1733.75,290 L1736.25,285 L1738.75,275 L1741.25,265 L1743,253.75" class="ln" stroke="#00ff00"/>
<line x1="134.5" y1="116" x2="134.5" y2="817" stroke="#19e619" stroke-width="1.3"/>
<line x1="1766.5" y1="116" x2="1766.5" y2="817" stroke="#ff2a4a" stroke-width="1.25"/>
<line x1="134" y1="817.5" x2="1767" y2="817.5" stroke="#d8d8d8" stroke-width="1.3"/>
<path d="M134,118.5 L128.5,121.7 L134,124.9 Z" fill="#19e619"/>
<text transform="translate(125.50 126.00) scale(0.935 1)" class="ax" text-anchor="end">5000</text>
<line x1="131" y1="179.45" x2="134" y2="179.45" stroke="#19e619" stroke-width="1"/>
<path d="M134,234.0 L128.5,237.2 L134,240.39999999999998 Z" fill="#19e619"/>
<text transform="translate(125.50 241.50) scale(0.935 1)" class="ax" text-anchor="end">4500</text>
<line x1="131" y1="294.95" x2="134" y2="294.95" stroke="#19e619" stroke-width="1"/>
<path d="M134,349.5 L128.5,352.7 L134,355.9 Z" fill="#19e619"/>
<text transform="translate(125.50 357.00) scale(0.935 1)" class="ax" text-anchor="end">4000</text>
<line x1="131" y1="410.45" x2="134" y2="410.45" stroke="#19e619" stroke-width="1"/>
<path d="M134,465.0 L128.5,468.2 L134,471.4 Z" fill="#19e619"/>
<text transform="translate(125.50 472.50) scale(0.935 1)" class="ax" text-anchor="end">3500</text>
<line x1="131" y1="525.95" x2="134" y2="525.95" stroke="#19e619" stroke-width="1"/>
<path d="M134,580.5 L128.5,583.7 L134,586.9000000000001 Z" fill="#19e619"/>
<text transform="translate(125.50 588.00) scale(0.935 1)" class="ax" text-anchor="end">3000</text>
<line x1="131" y1="641.45" x2="134" y2="641.45" stroke="#19e619" stroke-width="1"/>
<path d="M134,696.0 L128.5,699.2 L134,702.4000000000001 Z" fill="#19e619"/>
<text transform="translate(125.50 703.50) scale(0.935 1)" class="ax" text-anchor="end">2500</text>
<line x1="131" y1="756.95" x2="134" y2="756.95" stroke="#19e619" stroke-width="1"/>
<path d="M134,811.5 L128.5,814.7 L134,817.9000000000001 Z" fill="#19e619"/>
<path d="M87,246.3 L128.5,246.3 L133.8,254.2 L128.5,262 L87,262 Z" fill="#19e619"/>
<text x="87" y="258.8" class="ax" style="fill:#000;font-size:13px" textLength="40.5" lengthAdjust="spacingAndGlyphs">4425.84</text>
<path d="M1767,260.3 L1773.5,263.5 L1767,266.7 Z" fill="#ff2a4a"/>
<text transform="translate(1776.00 267.50) scale(0.935 1)" class="ax" text-anchor="start">25000</text>
<path d="M1767,409.8 L1773.5,413 L1767,416.2 Z" fill="#ff2a4a"/>
<text transform="translate(1776.00 417.00) scale(0.935 1)" class="ax" text-anchor="start">20000</text>
<path d="M1767,560.3 L1773.5,563.5 L1767,566.7 Z" fill="#ff2a4a"/>
<text transform="translate(1776.00 567.50) scale(0.935 1)" class="ax" text-anchor="start">15000</text>
<path d="M1767,710.3 L1773.5,713.5 L1767,716.7 Z" fill="#ff2a4a"/>
<text transform="translate(1776.00 717.50) scale(0.935 1)" class="ax" text-anchor="start">10000</text>
<line x1="1767" y1="187.7" x2="1770" y2="187.7" stroke="#ff2a4a" stroke-width="1"/>
<line x1="1767" y1="338" x2="1770" y2="338" stroke="#ff2a4a" stroke-width="1"/>
<line x1="1767" y1="488" x2="1770" y2="488" stroke="#ff2a4a" stroke-width="1"/>
<line x1="1767" y1="638" x2="1770" y2="638" stroke="#ff2a4a" stroke-width="1"/>
<line x1="1767" y1="788.5" x2="1770" y2="788.5" stroke="#ff2a4a" stroke-width="1"/>
<path d="M1768,178.5 L1772.5,171 L1823,171 L1823,186 L1772.5,186 Z" fill="#ffffff"/>
<text x="1774" y="182.6" class="ax" style="fill:#000" textLength="47" lengthAdjust="spacingAndGlyphs">27819.53</text>
<path d="M1768,523.5 L1772.5,516 L1823,516 L1823,531 L1772.5,531 Z" fill="#ff2a4a"/>
<text x="1774" y="527.6" class="ax" style="fill:#fff" textLength="47" lengthAdjust="spacingAndGlyphs">16322.89</text>
<line x1="146.75" y1="817" x2="146.75" y2="821.5" stroke="#d8d8d8" stroke-width="1.2"/>
<text transform="translate(137.30 830.70) scale(0.935 1)" class="ax" text-anchor="start">Jun</text>
<line x1="173.9" y1="817" x2="173.9" y2="820" stroke="#d8d8d8" stroke-width="1.2"/>
<line x1="201.1" y1="817" x2="201.1" y2="820" stroke="#d8d8d8" stroke-width="1.2"/>
<line x1="228.25" y1="817" x2="228.25" y2="821.5" stroke="#d8d8d8" stroke-width="1.2"/>
<text transform="translate(223.75 830.70) scale(0.935 1)" class="ax" text-anchor="end">Sep</text>
<line x1="255.2" y1="817" x2="255.2" y2="820" stroke="#d8d8d8" stroke-width="1.2"/>
<line x1="282.2" y1="817" x2="282.2" y2="820" stroke="#d8d8d8" stroke-width="1.2"/>
<line x1="309.25" y1="817" x2="309.25" y2="821.5" stroke="#d8d8d8" stroke-width="1.2"/>
<text transform="translate(304.75 830.70) scale(0.935 1)" class="ax" text-anchor="end">Dec</text>
<line x1="335.3" y1="817" x2="335.3" y2="820" stroke="#d8d8d8" stroke-width="1.2"/>
<line x1="361.4" y1="817" x2="361.4" y2="820" stroke="#d8d8d8" stroke-width="1.2"/>
<line x1="387.5" y1="817" x2="387.5" y2="821.5" stroke="#d8d8d8" stroke-width="1.2"/>
<text transform="translate(383.00 830.70) scale(0.935 1)" class="ax" text-anchor="end">Mar</text>
<line x1="414.2" y1="817" x2="414.2" y2="820" stroke="#d8d8d8" stroke-width="1.2"/>
<line x1="440.8" y1="817" x2="440.8" y2="820" stroke="#d8d8d8" stroke-width="1.2"/>
<line x1="467.5" y1="817" x2="467.5" y2="821.5" stroke="#d8d8d8" stroke-width="1.2"/>
<text transform="translate(463.00 830.70) scale(0.935 1)" class="ax" text-anchor="end">Jun</text>
<line x1="494.8" y1="817" x2="494.8" y2="820" stroke="#d8d8d8" stroke-width="1.2"/>
<line x1="522.0" y1="817" x2="522.0" y2="820" stroke="#d8d8d8" stroke-width="1.2"/>
<line x1="549.25" y1="817" x2="549.25" y2="821.5" stroke="#d8d8d8" stroke-width="1.2"/>
<text transform="translate(544.75 830.70) scale(0.935 1)" class="ax" text-anchor="end">Sep</text>
<line x1="576.4" y1="817" x2="576.4" y2="820" stroke="#d8d8d8" stroke-width="1.2"/>
<line x1="603.6" y1="817" x2="603.6" y2="820" stroke="#d8d8d8" stroke-width="1.2"/>
<line x1="630.75" y1="817" x2="630.75" y2="821.5" stroke="#d8d8d8" stroke-width="1.2"/>
<text transform="translate(626.25 830.70) scale(0.935 1)" class="ax" text-anchor="end">Dec</text>
<line x1="656.9" y1="817" x2="656.9" y2="820" stroke="#d8d8d8" stroke-width="1.2"/>
<line x1="683.1" y1="817" x2="683.1" y2="820" stroke="#d8d8d8" stroke-width="1.2"/>
<line x1="709.25" y1="817" x2="709.25" y2="821.5" stroke="#d8d8d8" stroke-width="1.2"/>
<text transform="translate(704.75 830.70) scale(0.935 1)" class="ax" text-anchor="end">Mar</text>
<line x1="736.0" y1="817" x2="736.0" y2="820" stroke="#d8d8d8" stroke-width="1.2"/>
<line x1="762.8" y1="817" x2="762.8" y2="820" stroke="#d8d8d8" stroke-width="1.2"/>
<line x1="789.5" y1="817" x2="789.5" y2="821.5" stroke="#d8d8d8" stroke-width="1.2"/>
<text transform="translate(785.00 830.70) scale(0.935 1)" class="ax" text-anchor="end">Jun</text>
<line x1="817.2" y1="817" x2="817.2" y2="820" stroke="#d8d8d8" stroke-width="1.2"/>
<line x1="844.8" y1="817" x2="844.8" y2="820" stroke="#d8d8d8" stroke-width="1.2"/>
<line x1="872.5" y1="817" x2="872.5" y2="821.5" stroke="#d8d8d8" stroke-width="1.2"/>
<text transform="translate(868.00 830.70) scale(0.935 1)" class="ax" text-anchor="end">Sep</text>
<line x1="899.4" y1="817" x2="899.4" y2="820" stroke="#d8d8d8" stroke-width="1.2"/>
<line x1="926.3" y1="817" x2="926.3" y2="820" stroke="#d8d8d8" stroke-width="1.2"/>
<line x1="953.25" y1="817" x2="953.25" y2="821.5" stroke="#d8d8d8" stroke-width="1.2"/>
<text transform="translate(948.75 830.70) scale(0.935 1)" class="ax" text-anchor="end">Dec</text>
<line x1="979.4" y1="817" x2="979.4" y2="820" stroke="#d8d8d8" stroke-width="1.2"/>
<line x1="1005.6" y1="817" x2="1005.6" y2="820" stroke="#d8d8d8" stroke-width="1.2"/>
<line x1="1031.75" y1="817" x2="1031.75" y2="821.5" stroke="#d8d8d8" stroke-width="1.2"/>
<text transform="translate(1027.25 830.70) scale(0.935 1)" class="ax" text-anchor="end">Mar</text>
<line x1="1058.4" y1="817" x2="1058.4" y2="820" stroke="#d8d8d8" stroke-width="1.2"/>
<line x1="1085.1" y1="817" x2="1085.1" y2="820" stroke="#d8d8d8" stroke-width="1.2"/>
<line x1="1111.75" y1="817" x2="1111.75" y2="821.5" stroke="#d8d8d8" stroke-width="1.2"/>
<text transform="translate(1107.25 830.70) scale(0.935 1)" class="ax" text-anchor="end">Jun</text>
<line x1="1139.1" y1="817" x2="1139.1" y2="820" stroke="#d8d8d8" stroke-width="1.2"/>
<line x1="1166.4" y1="817" x2="1166.4" y2="820" stroke="#d8d8d8" stroke-width="1.2"/>
<line x1="1193.75" y1="817" x2="1193.75" y2="821.5" stroke="#d8d8d8" stroke-width="1.2"/>
<text transform="translate(1189.25 830.70) scale(0.935 1)" class="ax" text-anchor="end">Sep</text>
<line x1="1220.7" y1="817" x2="1220.7" y2="820" stroke="#d8d8d8" stroke-width="1.2"/>
<line x1="1247.6" y1="817" x2="1247.6" y2="820" stroke="#d8d8d8" stroke-width="1.2"/>
<line x1="1274.5" y1="817" x2="1274.5" y2="821.5" stroke="#d8d8d8" stroke-width="1.2"/>
<text transform="translate(1270.00 830.70) scale(0.935 1)" class="ax" text-anchor="end">Dec</text>
<line x1="1301.2" y1="817" x2="1301.2" y2="820" stroke="#d8d8d8" stroke-width="1.2"/>
<line x1="1327.8" y1="817" x2="1327.8" y2="820" stroke="#d8d8d8" stroke-width="1.2"/>
<line x1="1354.5" y1="817" x2="1354.5" y2="821.5" stroke="#d8d8d8" stroke-width="1.2"/>
<text transform="translate(1350.00 830.70) scale(0.935 1)" class="ax" text-anchor="end">Mar</text>
<line x1="1380.9" y1="817" x2="1380.9" y2="820" stroke="#d8d8d8" stroke-width="1.2"/>
<line x1="1407.3" y1="817" x2="1407.3" y2="820" stroke="#d8d8d8" stroke-width="1.2"/>
<line x1="1433.75" y1="817" x2="1433.75" y2="821.5" stroke="#d8d8d8" stroke-width="1.2"/>
<text transform="translate(1429.25 830.70) scale(0.935 1)" class="ax" text-anchor="end">Jun</text>
<line x1="1461.4" y1="817" x2="1461.4" y2="820" stroke="#d8d8d8" stroke-width="1.2"/>
<line x1="1489.1" y1="817" x2="1489.1" y2="820" stroke="#d8d8d8" stroke-width="1.2"/>
<line x1="1516.75" y1="817" x2="1516.75" y2="821.5" stroke="#d8d8d8" stroke-width="1.2"/>
<text transform="translate(1512.25 830.70) scale(0.935 1)" class="ax" text-anchor="end">Sep</text>
<line x1="1543.4" y1="817" x2="1543.4" y2="820" stroke="#d8d8d8" stroke-width="1.2"/>
<line x1="1570.1" y1="817" x2="1570.1" y2="820" stroke="#d8d8d8" stroke-width="1.2"/>
<line x1="1596.75" y1="817" x2="1596.75" y2="821.5" stroke="#d8d8d8" stroke-width="1.2"/>
<text transform="translate(1592.25 830.70) scale(0.935 1)" class="ax" text-anchor="end">Dec</text>
<line x1="1623.7" y1="817" x2="1623.7" y2="820" stroke="#d8d8d8" stroke-width="1.2"/>
<line x1="1650.6" y1="817" x2="1650.6" y2="820" stroke="#d8d8d8" stroke-width="1.2"/>
<line x1="1677.5" y1="817" x2="1677.5" y2="821.5" stroke="#d8d8d8" stroke-width="1.2"/>
<text transform="translate(1673.00 830.70) scale(0.935 1)" class="ax" text-anchor="end">Mar</text>
<line x1="1704.2" y1="817" x2="1704.2" y2="820" stroke="#d8d8d8" stroke-width="1.2"/>
<line x1="1730.8" y1="817" x2="1730.8" y2="820" stroke="#d8d8d8" stroke-width="1.2"/>
<line x1="1757.5" y1="817" x2="1757.5" y2="821.5" stroke="#d8d8d8" stroke-width="1.2"/>
<text transform="translate(1753.00 830.70) scale(0.935 1)" class="ax" text-anchor="end">Jun</text>
<line x1="309.25" y1="833" x2="309.25" y2="847.5" stroke="#9a9a9a" stroke-width="1.2"/>
<line x1="630.75" y1="833" x2="630.75" y2="847.5" stroke="#9a9a9a" stroke-width="1.2"/>
<line x1="953.25" y1="833" x2="953.25" y2="847.5" stroke="#9a9a9a" stroke-width="1.2"/>
<line x1="1274.5" y1="833" x2="1274.5" y2="847.5" stroke="#9a9a9a" stroke-width="1.2"/>
<line x1="1596.75" y1="833" x2="1596.75" y2="847.5" stroke="#9a9a9a" stroke-width="1.2"/>
<text transform="translate(221.62 845.20) scale(0.935 1)" class="ax" text-anchor="middle">2018</text>
<text transform="translate(470.00 845.20) scale(0.935 1)" class="ax" text-anchor="middle">2019</text>
<text transform="translate(792.00 845.20) scale(0.935 1)" class="ax" text-anchor="middle">2020</text>
<text transform="translate(1113.88 845.20) scale(0.935 1)" class="ax" text-anchor="middle">2021</text>
<text transform="translate(1435.62 845.20) scale(0.935 1)" class="ax" text-anchor="middle">2022</text>
<text transform="translate(1681.38 845.20) scale(0.935 1)" class="ax" text-anchor="middle">2023</text>
<rect x="331" y="155.5" width="262" height="88.5" rx="2" fill="#0e0e0e" fill-opacity="0.93"/>
<text x="462" y="179" class="lg" text-anchor="middle" textLength="74" lengthAdjust="spacingAndGlyphs">Last Price</text>
<rect x="340.5" y="185.7" width="10.6" height="10.6" fill="#ffffff"/>
<text x="355" y="196.3" class="lg" xml:space="preserve" textLength="155" lengthAdjust="spacingAndGlyphs">FTSEMIB Index  (R1)</text>
<text x="517.0" y="196.3" class="lg" textLength="67.5" lengthAdjust="spacingAndGlyphs">27819.53</text>
<rect x="340.5" y="203.89999999999998" width="10.6" height="10.6" fill="#00ff00"/>
<text x="355" y="214.5" class="lg" xml:space="preserve" textLength="120" lengthAdjust="spacingAndGlyphs">SPX Index  (L1)</text>
<text x="526.0" y="214.5" class="lg" textLength="58.5" lengthAdjust="spacingAndGlyphs">4425.84</text>
<rect x="340.5" y="222.1" width="10.6" height="10.6" fill="#ff2a4a"/>
<text x="355" y="232.70000000000002" class="lg" xml:space="preserve" textLength="121.5" lengthAdjust="spacingAndGlyphs">DAX Index  (R1)</text>
<text x="517.0" y="232.70000000000002" class="lg" textLength="67.5" lengthAdjust="spacingAndGlyphs">16322.89</text>
</svg>
<div id="caption">
<svg width="1268" height="71" viewBox="0 0 1268 71"><text x="21.6" y="49.1" font-family="Liberation Sans, sans-serif" font-weight="700" font-size="40.5" fill="#0a2b60" textLength="1225.5" lengthAdjust="spacingAndGlyphs">Il mercato azionario italiano ha performato meglio di molti altri</text></svg>
</div>
<svg id="logo" width="420" height="1080" viewBox="0 0 420 1080">
<circle cx="78.9" cy="944.7" r="10.4" fill="#fafcff"/>
<path d="M81,921.4 A28.55,28.55 0 1 1 68.5,975.9 L68.5,951 C70,958.5 77,965.6 85.2,965.6 C95,965.6 101.8,955.5 101.8,943.5 C101.8,932 93,923.2 81,921.4 Z" fill="#fafcff"/>
<text x="119" y="949.7" font-family="Liberation Sans, sans-serif" font-size="34" fill="#fafcff" textLength="135.5" lengthAdjust="spacingAndGlyphs">Intermonte</text>
<text x="116" y="980.1" font-family="Liberation Sans, sans-serif" font-size="30.7" fill="#fafcff" textLength="230.5" lengthAdjust="spacingAndGlyphs">Advisory &amp; Gestione</text>
</svg>
</body>
</html>
